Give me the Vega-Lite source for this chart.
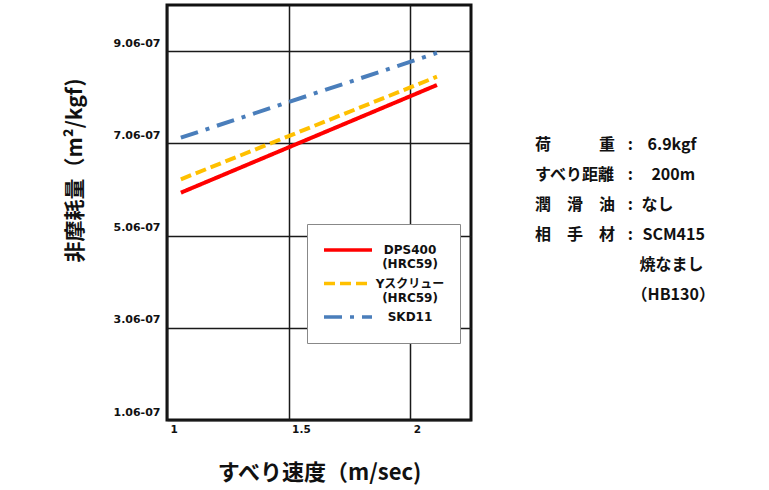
{
  "$schema": "https://vega.github.io/schema/vega-lite/v6.json",
  "width": 304,
  "height": 415,
  "autosize": {"type": "none"},
  "padding": {"left": 167, "top": 5, "right": 298, "bottom": 70},
  "background": "white",
  "config": {
    "view": {"stroke": "#111111", "strokeWidth": 3},
    "axis": {"gridColor": "#1a1a1a", "gridWidth": 1.5, "gridOpacity": 1, "domain": false, "ticks": false, "labelColor": "#111111", "titleColor": "#111111"}
  },
  "datasets": {
    "lines": [
      {"series": "DPS400", "speed": 1.057, "wear": 5.93e-7},
      {"series": "DPS400", "speed": 2.11, "wear": 8.265e-7},
      {"series": "Yスクリュー", "speed": 1.057, "wear": 6.22e-7},
      {"series": "Yスクリュー", "speed": 2.11, "wear": 8.445e-7},
      {"series": "SKD11", "speed": 1.057, "wear": 7.122e-7},
      {"series": "SKD11", "speed": 2.11, "wear": 8.96e-7}
    ],
    "notes": [
      {"pos": 2.5132, "row": 1, "text": "荷　　　重"},
      {"pos": 2.895, "row": 1, "text": ":"},
      {"pos": 2.9757, "row": 1, "text": "6.9kgf"},
      {"pos": 2.5132, "row": 2, "text": "すべり距離"},
      {"pos": 2.895, "row": 2, "text": ":"},
      {"pos": 2.9918, "row": 2, "text": "200m"},
      {"pos": 2.5132, "row": 3, "text": "潤　滑　油"},
      {"pos": 2.895, "row": 3, "text": ":"},
      {"pos": 2.9507, "row": 3, "text": "なし"},
      {"pos": 2.5132, "row": 4, "text": "相　手　材"},
      {"pos": 2.895, "row": 4, "text": ":"},
      {"pos": 2.9548, "row": 4, "text": "SCM415"},
      {"pos": 2.9424, "row": 5, "text": "焼なまし"},
      {"pos": 2.9104, "row": 6, "text": "（HB130）"}
    ]
  },
  "layer": [
    {
      "data": {"name": "lines"},
      "mark": {"type": "line", "strokeWidth": 4, "strokeCap": "butt"},
      "encoding": {
        "x": {
          "field": "speed", "type": "quantitative",
          "scale": {"domain": [1, 2.25], "nice": false, "zero": false},
          "axis": {
            "values": [1, 1.5, 2], "format": "~g",
            "labelFont": "DejaVu Sans", "labelFontWeight": "bold", "labelFontSize": 10.5,
            "labelAlign": "left", "labelOffset": 3, "labelPadding": 4, "labelFlush": false, "labelBound": false,
            "title": "すべり速度（m/sec)", "titleFont": "Noto Sans CJK JP", "titleFontSize": 22, "titleFontWeight": "bold",
            "titleY": 52, "titleBaseline": "middle"
          }
        },
        "y": {
          "field": "wear", "type": "quantitative",
          "scale": {"domain": [1e-7, 1e-6], "nice": false, "zero": false},
          "axis": {
            "values": [1e-7, 3e-7, 5e-7, 7e-7, 9e-7],
            "labelExpr": "format(datum.value*1e7, '.1f') + '6-07'",
            "labelFont": "DejaVu Sans", "labelFontWeight": "bold", "labelFontSize": 11,
            "labelPadding": 7, "labelBaseline": "bottom", "labelOffset": -3,
            "title": "非摩耗量（m²/kgf)", "titleFont": "Noto Sans CJK JP", "titleFontSize": 21, "titleFontWeight": "bold",
            "titleX": -92, "titleY": 165, "titleAngle": -90, "titleBaseline": "middle", "titleAlign": "center"
          }
        },
        "color": {
          "field": "series", "type": "nominal",
          "scale": {"domain": ["DPS400", "Yスクリュー", "SKD11"], "range": ["#FF0000", "#FFC000", "#4A7EBB"]},
          "legend": {
            "title": null, "orient": "none", "legendX": 140, "legendY": 219, "padding": 15,
            "fillColor": "white", "strokeColor": "#888888",
            "symbolType": "stroke", "symbolSize": 2304, "symbolStrokeWidth": 3.5, "clipHeight": 22,
            "labelExpr": "datum.label == 'DPS400' ? ['DPS400', '(HRC59)'] : datum.label == 'SKD11' ? 'SKD11' : [datum.label, '(HRC59)']",
            "labelFont": "DejaVu Sans, Noto Sans CJK JP", "labelFontWeight": "bold", "labelFontSize": 12, "labelLineHeight": 16,
            "labelAlign": "center", "labelOffset": 36, "labelBaseline": "middle", "rowPadding": 2.5, "labelColor": "#111111"
          }
        },
        "strokeDash": {
          "field": "series", "type": "nominal",
          "scale": {"domain": ["DPS400", "Yスクリュー", "SKD11"], "range": [[1, 0], [11, 5], [18, 8, 4, 8]]},
          "legend": {
            "title": null, "orient": "none", "legendX": 140, "legendY": 219, "padding": 15,
            "fillColor": "white", "strokeColor": "#888888",
            "symbolType": "stroke", "symbolSize": 2304, "symbolStrokeWidth": 3.5, "clipHeight": 22,
            "labelExpr": "datum.label == 'DPS400' ? ['DPS400', '(HRC59)'] : datum.label == 'SKD11' ? 'SKD11' : [datum.label, '(HRC59)']",
            "labelFont": "DejaVu Sans, Noto Sans CJK JP", "labelFontWeight": "bold", "labelFontSize": 12, "labelLineHeight": 16,
            "labelAlign": "center", "labelOffset": 36, "labelBaseline": "middle", "rowPadding": 2.5, "labelColor": "#111111"
          }
        }
      }
    },
    {
      "data": {"name": "notes"},
      "mark": {"type": "text", "align": "left", "baseline": "middle", "font": "Noto Sans CJK JP", "fontSize": 16, "fontWeight": "bold", "color": "#111111", "clip": false},
      "encoding": {
        "x": {"field": "pos", "type": "quantitative", "scale": {"domain": [1, 2.25], "nice": false, "zero": false}},
        "y": {"field": "row", "type": "quantitative", "scale": {"domain": [-3.6667, 10.1667], "reverse": true, "nice": false, "zero": false}, "axis": null},
        "text": {"field": "text"}
      }
    }
  ],
  "resolve": {"scale": {"y": "independent"}}
}
